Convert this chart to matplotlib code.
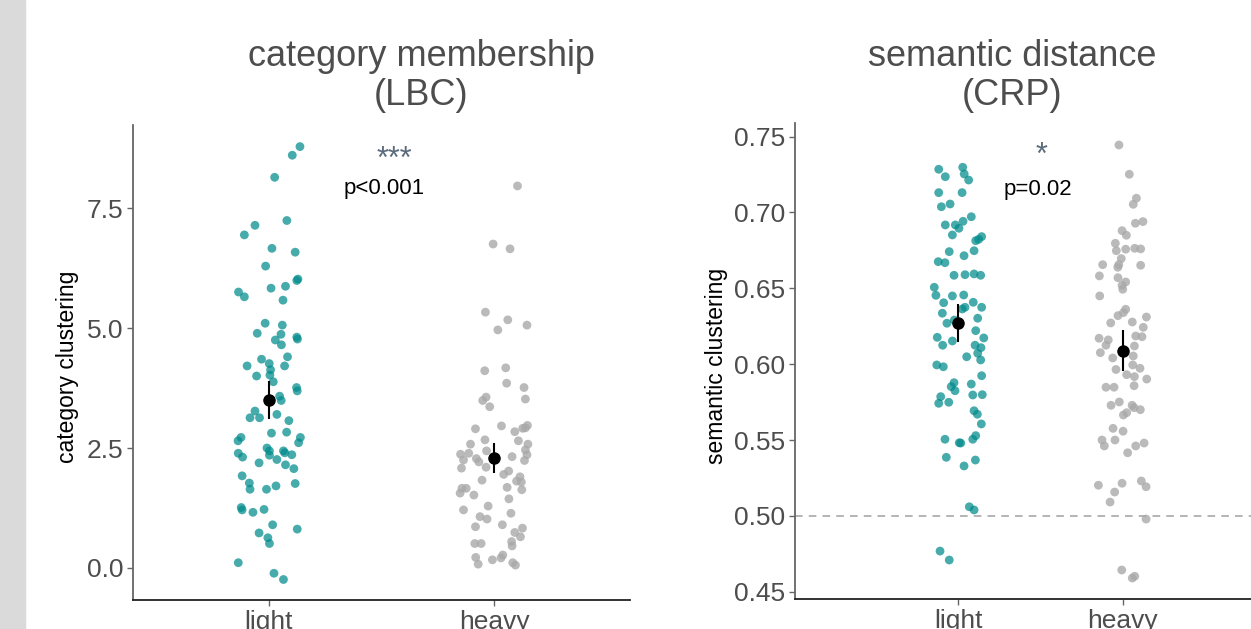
import numpy as np
import matplotlib
matplotlib.use('Agg')
import matplotlib.pyplot as plt
from matplotlib.patches import Rectangle

plt.rcParams['font.family'] = ['Liberation Sans', 'DejaVu Sans']

# category positions on the x axis
groups = ['light', 'heavy']

# ---- category membership (LBC): jittered x, clustering score ----
lbc_light_x = [1.139, 1.105, 1.027, 1.081, 0.940, 0.893, 1.015, 1.118, 0.987, 1.130,
               1.125, 0.867, 0.893, 1.011, 1.075, 1.064, 0.985, 1.061, 0.950, 1.055,
               1.030, 1.057, 1.125, 1.128, 1.084, 0.969, 0.905, 1.003, 1.071, 0.947,
               1.006, 1.009, 1.021, 1.124, 1.127, 1.049, 1.056, 0.940, 0.918, 0.960,
               1.037, 1.090, 1.013, 1.080, 0.878, 0.865, 1.141, 1.133, 0.993, 1.004,
               1.066, 1.072, 1.103, 0.866, 0.885, 1.004, 1.037, 0.958, 1.075, 1.112,
               0.883, 0.915, 0.918, 0.991, 1.033, 1.118, 0.879, 0.883, 0.931, 0.980,
               1.018, 1.127, 0.958, 0.997, 1.004, 0.866, 1.024, 1.066]
lbc_light_y = [8.78, 8.60, 8.14, 7.24, 7.14, 6.94, 6.66, 6.58, 6.29, 6.02,
               5.99, 5.75, 5.65, 5.83, 5.87, 5.58, 5.10, 5.06, 4.89, 4.87,
               4.75, 4.65, 4.81, 4.77, 4.40, 4.35, 4.21, 4.26, 4.21, 4.00,
               4.02, 4.13, 3.88, 3.76, 3.69, 3.58, 3.49, 3.27, 3.13, 3.13,
               3.20, 3.07, 2.81, 2.83, 2.72, 2.65, 2.72, 2.61, 2.50, 2.44,
               2.44, 2.40, 2.36, 2.39, 2.31, 2.35, 2.26, 2.19, 2.15, 2.07,
               1.92, 1.77, 1.64, 1.64, 1.71, 1.76, 1.26, 1.21, 1.16, 1.22,
               0.90, 0.81, 0.73, 0.63, 0.51, 0.11, -0.11, -0.24]
lbc_heavy_x = [2.102, 1.994, 2.069, 1.960, 2.059, 2.015, 2.144, 1.957, 2.050, 2.054,
               2.131, 2.137, 1.963, 1.948, 1.979, 1.916, 2.031, 2.090, 2.125, 2.146,
               2.137, 1.894, 1.958, 2.106, 2.148, 1.850, 1.886, 1.863, 1.920, 1.931,
               1.965, 2.078, 2.137, 2.144, 2.133, 1.854, 1.963, 2.063, 2.041, 1.945,
               2.113, 2.098, 2.119, 1.856, 1.875, 1.848, 2.056, 2.121, 1.909, 2.064,
               1.972, 1.863, 1.936, 1.967, 2.073, 1.916, 2.035, 2.124, 2.090, 2.115,
               1.913, 1.941, 2.076, 2.078, 1.917, 1.928, 1.991, 2.029, 2.037, 2.081,
               2.093]
lbc_heavy_y = [7.96, 6.75, 6.65, 5.33, 5.17, 4.96, 5.06, 4.11, 4.17, 3.85,
               3.76, 3.52, 3.56, 3.49, 3.36, 2.90, 2.96, 2.84, 2.91, 2.97,
               2.92, 2.58, 2.67, 2.65, 2.58, 2.37, 2.39, 2.25, 2.28, 2.21,
               2.44, 2.32, 2.46, 2.36, 2.24, 2.08, 2.10, 2.02, 1.95, 1.83,
               1.90, 1.81, 1.79, 1.66, 1.66, 1.56, 1.68, 1.63, 1.52, 1.44,
               1.29, 1.21, 1.07, 1.02, 1.14, 0.86, 0.90, 0.83, 0.74, 0.65,
               0.51, 0.51, 0.55, 0.46, 0.22, 0.08, 0.17, 0.21, 0.27, 0.11,
               0.06]
lbc_mean = [3.50, 2.29]
lbc_err = [0.40, 0.32]

# ---- semantic distance (CRP) ----
crp_light_x = [0.881, 0.921, 1.027, 1.036, 1.063, 0.881, 1.023, 0.897, 0.950, 1.079,
               0.921, 0.982, 1.029, 1.004, 0.964, 1.106, 1.142, 1.124, 0.945, 1.035,
               1.096, 0.878, 0.919, 0.974, 1.041, 1.096, 1.136, 0.854, 0.864, 0.964,
               1.033, 0.911, 1.091, 1.041, 1.024, 1.142, 0.903, 1.118, 0.931, 0.976,
               1.106, 0.872, 0.964, 1.155, 0.905, 1.102, 1.138, 1.051, 1.118, 1.136,
               0.869, 0.909, 1.142, 0.974, 0.957, 0.980, 1.079, 0.893, 0.881, 0.942,
               1.088, 1.146, 1.096, 1.116, 1.140, 0.919, 1.006, 1.015, 1.088, 1.106,
               0.927, 1.035, 1.104, 1.067, 1.096, 0.889, 0.945]
crp_light_y = [0.7285, 0.7236, 0.7298, 0.7254, 0.7214, 0.7131, 0.7131, 0.7038, 0.7056, 0.6972,
               0.6918, 0.6918, 0.6942, 0.6896, 0.6852, 0.6814, 0.6841, 0.6823, 0.6742, 0.6715,
               0.6748, 0.6676, 0.6669, 0.6586, 0.6590, 0.6595, 0.6586, 0.6507, 0.6454, 0.6450,
               0.6456, 0.6405, 0.6408, 0.6375, 0.6364, 0.6375, 0.6336, 0.6303, 0.6270, 0.6291,
               0.6221, 0.6177, 0.6153, 0.6173, 0.6125, 0.6125, 0.6109, 0.6049, 0.6072, 0.6028,
               0.5995, 0.5983, 0.5924, 0.5878, 0.5852, 0.5825, 0.5869, 0.5786, 0.5742, 0.5749,
               0.5797, 0.5799, 0.5693, 0.5670, 0.5606, 0.5505, 0.5482, 0.5480, 0.5505, 0.5529,
               0.5386, 0.5329, 0.5368, 0.5060, 0.5039, 0.4768, 0.4709]
crp_heavy_x = [1.977, 2.040, 2.083, 2.064, 2.077, 2.123, 1.996, 2.022, 1.955, 1.961,
               2.018, 2.073, 2.109, 1.991, 1.878, 1.976, 1.970, 2.109, 1.858, 1.971,
               2.018, 1.996, 2.000, 1.860, 2.018, 2.004, 1.971, 2.144, 1.927, 2.058,
               2.125, 2.079, 2.117, 1.856, 1.912, 1.898, 1.864, 2.071, 1.939, 2.064,
               1.959, 2.061, 2.105, 2.024, 2.071, 2.146, 1.898, 1.947, 2.069, 1.929,
               1.979, 2.057, 2.069, 2.107, 2.024, 2.004, 1.941, 2.002, 1.874, 1.888,
               1.953, 2.079, 2.130, 2.030, 1.852, 1.996, 1.951, 2.113, 2.142, 1.923,
               2.142, 1.994, 2.058, 2.073]
crp_heavy_y = [0.7445, 0.7252, 0.7094, 0.7054, 0.6929, 0.6940, 0.6880, 0.6850, 0.6797, 0.6748,
               0.6758, 0.6764, 0.6760, 0.6696, 0.6656, 0.6656, 0.6639, 0.6652, 0.6582, 0.6570,
               0.6542, 0.6520, 0.6494, 0.6450, 0.6362, 0.6340, 0.6320, 0.6311, 0.6272, 0.6278,
               0.6243, 0.6186, 0.6181, 0.6171, 0.6160, 0.6125, 0.6076, 0.6120, 0.6041, 0.6054,
               0.5965, 0.5995, 0.5973, 0.5931, 0.5918, 0.5902, 0.5848, 0.5848, 0.5858, 0.5729,
               0.5751, 0.5729, 0.5713, 0.5700, 0.5680, 0.5665, 0.5577, 0.5558, 0.5500, 0.5461,
               0.5500, 0.5461, 0.5480, 0.5416, 0.5202, 0.5215, 0.5157, 0.5230, 0.5192, 0.5091,
               0.4979, 0.4643, 0.4590, 0.4602]
crp_mean = [0.627, 0.609]
crp_err = [0.0125, 0.0135]

LIGHT_COL = '#008b8b'
HEAVY_COL = '#a9a9a9'
GREY_TXT = '#4d4d4d'


def style_axes(ax):
    for side in ['top', 'right']:
        ax.spines[side].set_visible(False)
    ax.spines['left'].set_color('#666666')
    ax.spines['left'].set_linewidth(1.3)
    ax.spines['bottom'].set_color('#222222')
    ax.spines['bottom'].set_linewidth(1.3)
    ax.tick_params(axis='both', colors='#666666', length=4, width=1,
                   labelsize=19, labelcolor=GREY_TXT, pad=3)
    ax.set_xticks([1, 2])
    ax.set_xticklabels(groups)


def draw_panel(ax, lx, ly, hx, hy, means, errs):
    ax.scatter(lx, ly, s=40, color=LIGHT_COL, alpha=0.72, edgecolors='none', zorder=2)
    ax.scatter(hx, hy, s=40, color=HEAVY_COL, alpha=0.8, edgecolors='none', zorder=2)
    ax.errorbar([1, 2], means, yerr=errs, fmt='o', color='black',
                markersize=8, elinewidth=1.5, capsize=0, zorder=3)


def main():
    fig = plt.figure(figsize=(12.51, 6.29), dpi=100)
    fig.patches.append(Rectangle((0, 0), 25 / 1251, 1, transform=fig.transFigure,
                                 color='#dadada', zorder=-1))

    # left panel
    ax1 = fig.add_axes([133 / 1251, 29 / 629, 497 / 1251, 475 / 629])
    draw_panel(ax1, lbc_light_x, lbc_light_y, lbc_heavy_x, lbc_heavy_y, lbc_mean, lbc_err)
    style_axes(ax1)
    ax1.set_xlim(0.4, 2.6)
    ax1.set_ylim(-0.667, 9.23)
    ax1.set_yticks([0, 2.5, 5.0, 7.5])
    ax1.set_yticklabels(['0.0', '2.5', '5.0', '7.5'])
    ax1.set_ylabel('category clustering', fontsize=16.5, color='black')
    ax1.yaxis.set_label_coords(-0.108, 0.49)
    ax1.text(1.555, 8.50, '***', ha='center', va='center', fontsize=22, color='#5b6b7b')
    ax1.text(1.51, 7.90, 'p<0.001', ha='center', va='center', fontsize=16, color='black')

    # right panel (runs off the right edge of the figure)
    ax2 = fig.add_axes([795 / 1251, 29.7 / 629, 456 / 1251, 476.3 / 629])
    draw_panel(ax2, crp_light_x, crp_light_y, crp_heavy_x, crp_heavy_y, crp_mean, crp_err)
    ax2.axhline(0.5, color='#a0a0a0', linestyle=(0, (5, 4)), linewidth=1.1, zorder=1)
    style_axes(ax2)
    ax2.set_xlim(0.007, 2.78)
    ax2.set_ylim(0.445, 0.759)
    yt = [0.45, 0.50, 0.55, 0.60, 0.65, 0.70, 0.75]
    ax2.set_yticks(yt)
    ax2.set_yticklabels(['%.2f' % v for v in yt])
    ax2.set_ylabel('semantic clustering', fontsize=16.5, color='black')
    ax2.yaxis.set_label_coords(-0.147, 0.49)
    ax2.text(1.503, 0.737, '*', ha='center', va='center', fontsize=22, color='#5b6b7b')
    ax2.text(1.485, 0.715, 'p=0.02', ha='center', va='center', fontsize=16, color='black')

    # titles
    fig.text(421 / 1251, 1 - 76 / 629, 'category membership\n(LBC)', ha='center',
             va='center', ma='center', fontsize=26, color=GREY_TXT, linespacing=1.15)
    fig.text(1012 / 1251, 1 - 76 / 629, 'semantic distance\n(CRP)', ha='center',
             va='center', ma='center', fontsize=26, color=GREY_TXT, linespacing=1.15)

    fig.savefig('out.png', dpi=100)


if __name__ == "__main__":
    main()
